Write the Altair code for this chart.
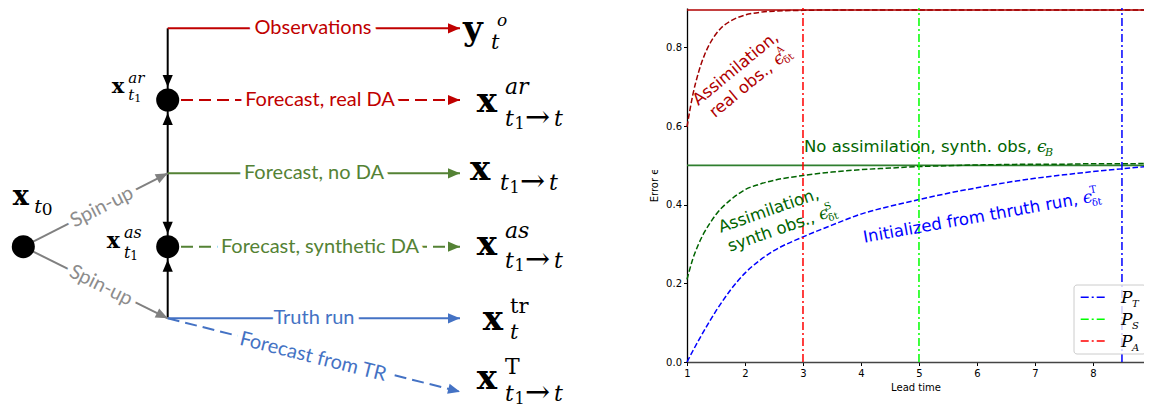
import math
import altair as alt
import pandas as pd

# ======================= RIGHT PANEL DATA (error vs lead time) =======================
lead_time = [1.0, 1.1, 1.2, 1.3, 1.4, 1.5, 1.6, 1.75, 2.0, 2.25, 2.5, 3.0, 3.5,
             4.0, 4.5, 5.0, 5.5, 6.0, 6.5, 7.0, 7.5, 8.0, 8.5, 9.0]
err_assim_real = [0.598, 0.679, 0.737, 0.780, 0.811, 0.834, 0.851, 0.867, 0.882, 0.889,
                  0.892, 0.894, 0.895, 0.895, 0.895, 0.895, 0.895, 0.895, 0.895, 0.895,
                  0.895, 0.895, 0.895, 0.895]
err_assim_synth = [0.210, 0.262, 0.300, 0.330, 0.354, 0.375, 0.392, 0.412, 0.438, 0.452,
                   0.462, 0.474, 0.483, 0.489, 0.493, 0.497, 0.499, 0.501, 0.502, 0.503,
                   0.503, 0.504, 0.504, 0.505]
err_from_truth = [0.000, 0.028, 0.055, 0.081, 0.106, 0.130, 0.152, 0.183, 0.226, 0.258,
                  0.283, 0.318, 0.348, 0.376, 0.396, 0.413, 0.429, 0.443, 0.456, 0.467,
                  0.476, 0.484, 0.491, 0.498]
eps_A_level = 0.895
eps_B_level = 0.5
p_subs = ["T", "S", "A"]
p_lead = [8.5, 5.0, 3.0]
p_colors = ["#0000ff", "#00ff00", "#ff0000"]
x_ticks = [1, 2, 3, 4, 5, 6, 7, 8]
y_ticks = [0.0, 0.2, 0.4, 0.6, 0.8]

# ======================= LEFT PANEL DATA (flow diagram, page pixels) =======================
node_x = [23.3, 167.7, 167.7]
node_y = [246.7, 100.0, 246.7]

edge_x1 = [167.7, 167.7, 167.7, 167.7, 167.7, 181.0, 167.7, 181.0, 167.7, 167.7, 23.3, 23.3]
edge_y1 = [28.3, 173.3, 173.3, 318.3, 28.3, 100.0, 173.3, 246.7, 318.3, 318.3, 246.7, 246.7]
edge_x2 = [167.7, 167.7, 167.7, 167.7, 460.0, 460.0, 460.0, 460.0, 460.0, 460.0, 167.7, 167.7]
edge_y2 = [100.0, 100.0, 246.7, 246.7, 28.3, 100.0, 173.3, 246.7, 318.3, 391.7, 173.3, 318.3]
edge_color = ["black", "black", "black", "black", "#c00000", "#c00000", "#548235",
              "#548235", "#4472c4", "#4472c4", "#808080", "#808080"]
edge_dashed = [False, False, False, False, False, True, False, True, False, True, False, False]
edge_tip_gap = [13, 13, 13, 13, 0, 0, 0, 0, 0, 0, 0, 0]

flow_labels = ["Observations", "Forecast, real DA", "Forecast, no DA",
               "Forecast, synthetic DA", "Truth run", "Forecast from TR", "Spin-up", "Spin-up"]
flow_x = [313, 320, 314, 320, 314, 313, 102, 101]
flow_y = [28.3, 100, 173.3, 246.7, 318.3, 357, 207, 285.5]
flow_angle = [0, 0, 0, 0, 0, 14.1, 333.1, 26.3]
flow_color = ["#c00000", "#c00000", "#548235", "#548235", "#4472c4", "#4472c4",
              "#8c8c8c", "#8c8c8c"]

# ======================= SCALES =======================
W, H, OFF = 1136, 402, 8
PXS = alt.Scale(domain=[OFF, OFF + W], range=[0, W])
PYS = alt.Scale(domain=[OFF, OFF + H], range=[0, H])
LX = alt.Scale(domain=[1, 8.88], range=[679, 1136])
EY = alt.Scale(domain=[0, 0.9], range=[354, 0])

layers = []


def txt(x, y, text, **kw):
    df = pd.DataFrame({"x": [x], "y": [y], "t": [text]})
    return alt.Chart(df).mark_text(**kw).encode(
        x=alt.X("x:Q", scale=PXS, axis=None),
        y=alt.Y("y:Q", scale=PYS, axis=None),
        text="t:N")


def rich(x, y, parts, color="black", angle=0):
    out = []
    for text, kind, size, dx, dy in parts:
        kw = dict(fontSize=size, align="left", baseline="alphabetic", dx=dx, dy=dy,
                  color=color, angle=angle)
        if kind == "sans":
            kw["font"] = "DejaVu Sans"
        else:
            kw["font"] = "DejaVu Serif"
            if kind == "b":
                kw["fontWeight"] = "bold"
            if kind == "i":
                kw["fontStyle"] = "italic"
        out.append(txt(x, y, text, **kw))
    return out


# ---------------- plot: reference levels ----------------
levels = pd.DataFrame({"x0": [1, 1], "x1": [8.88, 8.88],
                       "y": [eps_A_level, eps_B_level], "c": ["#b00000", "#2f7f2f"]})
layers.append(alt.Chart(levels).mark_rule(strokeWidth=1.6, clip=True).encode(
    x=alt.X("x0:Q", scale=LX, axis=None), x2="x1:Q",
    y=alt.Y("y:Q", scale=EY, axis=None), color=alt.Color("c:N", scale=None)))

# ---------------- plot: dashed error curves ----------------
curves = pd.DataFrame({
    "lead": lead_time * 3,
    "err": err_assim_real + err_assim_synth + err_from_truth,
    "s": ["A"] * len(lead_time) + ["S"] * len(lead_time) + ["T"] * len(lead_time),
    "c": ["#a00000"] * len(lead_time) + ["#006400"] * len(lead_time) + ["#0000ff"] * len(lead_time),
})
AX = alt.Axis(orient="bottom", offset=-48, values=x_ticks, format="d", grid=False,
              title="Lead time", titleFont="DejaVu Sans", titleFontSize=10,
              titleFontWeight="normal", titleColor="black", labelFont="DejaVu Sans",
              labelFontSize=10, labelColor="black", tickColor="black", tickSize=3.5,
              domainColor="#444444", domainWidth=1.3, labelPadding=3, titlePadding=4,
              labelFlush=False)
AY = alt.Axis(orient="left", offset=-679, values=y_ticks, format=".1f", grid=False,
              title="Error ϵ", titleFont="DejaVu Sans", titleFontSize=10,
              titleFontWeight="normal", titleColor="black", labelFont="DejaVu Sans",
              labelFontSize=10, labelColor="black", tickColor="black", tickSize=3.5,
              domainColor="black", domainWidth=1.3, labelPadding=2, titlePadding=6,
              labelFlush=False)
layers.append(alt.Chart(curves).mark_line(strokeDash=[5.5, 2.4], strokeWidth=1.5,
                                          clip=True, interpolate="monotone").encode(
    x=alt.X("lead:Q", scale=LX, axis=AX),
    y=alt.Y("err:Q", scale=EY, axis=AY),
    detail="s:N", color=alt.Color("c:N", scale=None)))

# ---------------- plot: predictability vertical lines ----------------
pl = pd.DataFrame({"lead": p_lead, "lo": [0] * 3, "hi": [0.9] * 3, "c": p_colors})
layers.append(alt.Chart(pl).mark_rule(strokeDash=[8, 3, 2, 3], strokeWidth=1.5).encode(
    x=alt.X("lead:Q", scale=LX, axis=None),
    y=alt.Y("lo:Q", scale=EY, axis=None), y2="hi:Q",
    color=alt.Color("c:N", scale=None)))

# ---------------- plot: annotations ----------------
FS = 16.5
layers += rich(698.3, 106, [
    ("Assimilation,", "sans", FS, 0, 0),
    ("real obs., ", "sans", FS, 5, 20),
    ("ϵ", "i", 17, 87, 20),
    ("A", "r", 10, 95, 12),
    ("δt", "r", 10, 95, 24)], color="#b00000", angle=320.5)
layers += rich(720.7, 232.7, [
    ("Assimilation,", "sans", FS, 0, 0),
    ("synth obs., ", "sans", FS, 2.6, 21),
    ("ϵ", "i", 17, 98.5, 21),
    ("S", "r", 10, 106.5, 13),
    ("δt", "r", 10, 106.5, 25)], color="#006400", angle=340.9)
layers += rich(864.3, 242.7, [
    ("Initialized from thruth run, ", "sans", FS, 0, 0),
    ("ϵ", "i", 17, 223, 0),
    ("T", "r", 10, 231, -9),
    ("δt", "r", 10, 231, 4)], color="#0000ff", angle=349.9)
layers += rich(804, 152, [
    ("No assimilation, synth. obs, ", "sans", FS, 0, 0),
    ("ϵ", "i", 17, 233, 0),
    ("B", "i", 11, 241, 4)], color="#006400")

# ---------------- plot: legend ----------------
LEG = dict(x0=1074, y0=285, x1=1146, y1=354, row0=297.3, step=21.9,
           lx0=1080.7, lx1=1107.3, tx=1121)
layers.append(alt.Chart(pd.DataFrame({"a": [LEG["x0"]], "b": [LEG["x1"]],
                                      "c": [LEG["y0"]], "d": [LEG["y1"]]})).mark_rect(
    cornerRadius=3, fill="white", fillOpacity=0.8, stroke="#cccccc", strokeWidth=1).encode(
    x=alt.X("a:Q", scale=PXS, axis=None), x2="b:Q",
    y=alt.Y("c:Q", scale=PYS, axis=None), y2="d:Q"))
leg_rows = [LEG["row0"] + i * LEG["step"] for i in range(len(p_subs))]
layers.append(alt.Chart(pd.DataFrame({"a": [LEG["lx0"]] * 3, "b": [LEG["lx1"]] * 3,
                                      "y": leg_rows, "c": p_colors})).mark_rule(
    strokeDash=[8, 3, 2, 3], strokeWidth=1.5).encode(
    x=alt.X("a:Q", scale=PXS, axis=None), x2="b:Q",
    y=alt.Y("y:Q", scale=PYS, axis=None), color=alt.Color("c:N", scale=None)))
for sub, ry in zip(p_subs, leg_rows):
    layers += rich(LEG["tx"], ry + 6, [("P", "i", 17, 0, 0), (sub, "i", 10, 11, 3.5)])

# ---------------- diagram: edges ----------------
edges = pd.DataFrame({"x1": edge_x1, "y1": edge_y1, "x2": edge_x2, "y2": edge_y2,
                      "c": edge_color, "d": edge_dashed})
for dashed in (False, True):
    sub = edges[edges["d"] == dashed]
    kw = dict(strokeWidth=2)
    if dashed:
        kw["strokeDash"] = [12, 6]
    layers.append(alt.Chart(sub).mark_rule(**kw).encode(
        x=alt.X("x1:Q", scale=PXS, axis=None), x2="x2:Q",
        y=alt.Y("y1:Q", scale=PYS, axis=None), y2="y2:Q",
        color=alt.Color("c:N", scale=None)))

# arrowheads at edge ends
ARROW_LEN = 12
ax, ay, aang = [], [], []
for x1, y1, x2, y2, gap in zip(edge_x1, edge_y1, edge_x2, edge_y2, edge_tip_gap):
    L = math.hypot(x2 - x1, y2 - y1)
    ux, uy = (x2 - x1) / L, (y2 - y1) / L
    tipx, tipy = x2 - gap * ux, y2 - gap * uy
    ax.append(tipx - ARROW_LEN / 2 * ux)
    ay.append(tipy - ARROW_LEN / 2 * uy)
    aang.append(math.degrees(math.atan2(uy, ux)) % 360)
arrows = pd.DataFrame({"x": ax, "y": ay, "a": aang, "c": edge_color})
layers.append(alt.Chart(arrows).mark_point(
    shape="M1,0L-1,-0.85L-1,0.85Z", filled=True, size=ARROW_LEN ** 2, opacity=1,
    strokeWidth=0).encode(
    x=alt.X("x:Q", scale=PXS, axis=None), y=alt.Y("y:Q", scale=PYS, axis=None),
    angle=alt.Angle("a:Q", scale=None), color=alt.Color("c:N", scale=None)))

# nodes
layers.append(alt.Chart(pd.DataFrame({"x": node_x, "y": node_y})).mark_circle(
    size=math.pi * 13 ** 2, color="black", opacity=1).encode(
    x=alt.X("x:Q", scale=PXS, axis=None), y=alt.Y("y:Q", scale=PYS, axis=None)))

# flow labels (white halo then text)
flows = pd.DataFrame({"x": flow_x, "y": flow_y, "t": flow_labels, "a": flow_angle,
                      "c": flow_color})
for halo in (True, False):
    kw = dict(font="Lato", fontSize=20, align="center", baseline="middle")
    if halo:
        kw.update(stroke="white", strokeWidth=11)
    enc = dict(x=alt.X("x:Q", scale=PXS, axis=None), y=alt.Y("y:Q", scale=PYS, axis=None),
               text="t:N", angle=alt.Angle("a:Q", scale=None))
    if halo:
        enc["color"] = alt.value("white")
    else:
        enc["color"] = alt.Color("c:N", scale=None)
    layers.append(alt.Chart(flows).mark_text(**kw).encode(**enc))

# math labels
SUB_T1T = lambda dx, dy: [("t", "i", 22, dx, dy), ("1", "r", 16, dx + 9.5, dy + 3),
                          ("→", "r", 30, dx + 20, dy + 0.5), ("t", "i", 22, dx + 49, dy)]
layers += rich(463, 40, [("y", "b", 34, 0, 0), ("o", "i", 17, 34, -14), ("t", "i", 21, 28, 9)])
layers += rich(476.7, 111.7, [("x", "b", 34, 0, 0), ("ar", "i", 22, 28.3, -17.7)]
               + SUB_T1T(28.3, 14.3))
layers += rich(470, 180, [("x", "b", 34, 0, 0)] + SUB_T1T(30, 10))
layers += rich(476.7, 255, [("x", "b", 34, 0, 0), ("as", "i", 22, 28.3, -16.7)]
               + SUB_T1T(28.3, 13.3))
layers += rich(482.7, 330, [("x", "b", 34, 0, 0), ("tr", "r", 21, 27.3, -17),
                            ("t", "i", 21, 27.3, 9)])
layers += rich(476.7, 389, [("x", "b", 34, 0, 0), ("T", "r", 22, 28.3, -15)]
               + SUB_T1T(28.3, 12))
layers += rich(12.7, 205, [("x", "b", 27, 0, 0), ("t", "i", 19, 21.5, 8.3),
                           ("0", "r", 17, 29, 9.5)])
layers += rich(111.7, 93.3, [("x", "b", 21, 0, 0), ("ar", "i", 15, 16.6, -10),
                             ("t", "i", 15, 16.6, 6.7), ("1", "r", 11, 22.5, 8.5)])
layers += rich(106.7, 248.3, [("x", "b", 22, 0, 0), ("as", "i", 16, 17.3, -10),
                              ("t", "i", 16, 17.3, 10), ("1", "r", 12, 23.5, 12)])

chart = alt.layer(*layers).resolve_scale(x="independent", y="independent").properties(
    width=W, height=H, autosize=alt.AutoSizeParams(type="none"), padding=0,
    background="white").configure_view(stroke=None)

chart.save("out.html", embed_options={"renderer": "svg", "actions": False})
